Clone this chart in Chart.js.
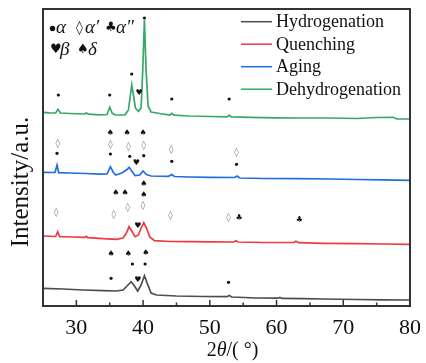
<!DOCTYPE html>
<html><head><meta charset="utf-8">
<script src="https://cdn.jsdelivr.net/npm/chart.js@4/dist/chart.umd.min.js"></script>
<style>html,body{margin:0;padding:0;background:#fff}</style>
</head><body>
<canvas id="c" width="426" height="363"></canvas>
<script>
// ---- data (2θ in degrees, intensity in arbitrary offset units) ----
const seriesNames = ['Hydrogenation', 'Quenching', 'Aging', 'Dehydrogenation'];
const seriesColors = ['#4d4d4d', '#ee3a40', '#1f6fdc', '#38a86a'];

const hydroX = [25, 28, 31, 34, 36, 37.0, 37.6, 38.2, 38.6, 39.2, 39.7, 40.2, 40.6, 41.2, 42, 45, 49, 52.6, 52.9, 53.3, 57, 60.2, 60.5, 60.8, 64, 67, 72, 76, 80];
const hydroY = [17.7, 17, 16, 15.3, 15, 16, 20, 24.3, 21, 15, 21, 30.3, 23, 13, 11, 10, 9.5, 9.3, 10.5, 9, 8, 7.8, 8.6, 7.6, 7.3, 7, 6.5, 6.2, 6];

const quenchX = [25, 26.9, 27.2, 27.5, 29.5, 31.3, 31.5, 31.7, 34, 36, 37.0, 37.5, 37.9, 38.3, 38.8, 39.3, 39.7, 40.1, 40.5, 41.0, 41.7, 44, 47, 50, 53.6, 53.9, 54.2, 58, 62.6, 62.9, 63.3, 67, 72, 76, 80];
const quenchY = [70, 69.5, 74.3, 69.3, 69, 68.7, 69.7, 68.4, 67.3, 66.7, 68, 73, 79.3, 75, 69.3, 71, 78, 83.3, 78, 69, 65.3, 64.5, 64.3, 64.2, 64, 65.3, 64, 63.5, 63.5, 64.8, 63.3, 62.7, 62.3, 62, 61.7];

const agingX = [25, 26.8, 27.1, 27.35, 29, 31.5, 33.5, 34.6, 35.1, 35.5, 35.9, 36.8, 37.5, 37.9, 38.3, 38.8, 39.5, 40.0, 40.5, 41.2, 43.8, 44.3, 44.7, 47, 50, 53.7, 54.1, 54.5, 58, 63, 68, 72, 76, 80];
const agingY = [133.7, 133.5, 141, 133.3, 133, 132.5, 131.8, 132, 139.3, 134, 131, 133, 136, 138.7, 135, 130.3, 131, 135, 131.5, 130, 129.7, 131.5, 129.5, 129, 128.7, 128.5, 130, 128, 127.5, 127.3, 127, 126.5, 126.2, 125.7];

const dehydX = [25, 26, 26.9, 27.25, 27.6, 29, 31.2, 31.5, 31.8, 33.5, 34.6, 35.0, 35.4, 35.9, 37.3, 37.8, 38.1, 38.3, 38.55, 38.85, 39.3, 39.7, 39.95, 40.2, 40.45, 40.75, 41.2, 42.5, 44.0, 44.3, 44.6, 47, 50, 52.6, 52.9, 53.2, 56, 60, 64, 68, 72, 75, 77.5, 78, 80];
const dehydY = [193.7, 193.2, 193, 196.7, 193, 192.5, 192, 193, 191.8, 191.2, 191.5, 198.7, 192.5, 191, 191.2, 196, 211, 221, 211, 198, 194.5, 198, 236, 286, 236, 200, 194, 192.5, 191, 192.7, 190.8, 190, 189.5, 189.2, 190.7, 189.2, 188.7, 188.2, 188, 188, 187.5, 188.5, 188.7, 187, 187];

// phase markers [2θ, intensity position]
const alphaMarks = [[27.3, 211], [35.0, 211], [38.3, 232], [40.2, 288], [44.3, 207], [52.9, 207],
  [27.1, 152.7], [35.1, 152], [38.0, 149.7], [40.1, 150.3], [44.3, 144.7], [54.0, 141.7],
  [38.4, 42], [40.3, 42], [35.2, 27.7], [52.8, 23.7]];
const alphaPrimeMarks = [[27.2, 162], [35.1, 161.3], [37.8, 159.3], [40.1, 160.3], [44.2, 156.7], [54.0, 153.7],
  [27.0, 93.3], [35.6, 91], [37.7, 98.7], [40.0, 100], [44.1, 90], [52.8, 88.3]];
const alphaDPrimeMarks = [[54.4, 87.7], [63.4, 85.7]];
const betaMarks = [[39.4, 213], [39.0, 142.7], [39.2, 80.3], [39.2, 26]];
const deltaMarks = [[35.1, 173.3], [37.6, 173.3], [40.0, 173.3],
  [35.9, 112.7], [37.3, 112.7], [40.1, 121.7], [40.1, 111],
  [35.2, 52], [37.8, 52], [40.4, 52.7]];

const xTickValues = [30, 40, 50, 60, 70, 80];
const xMinorTicks = [35, 45, 55, 65, 75];
const xMin = 25, xMax = 80, yMin = 0, yMax = 297;
const xTitleRuns = [['2', ''], ['θ', 'italic '], ['/( °)', '']];
const yTitle = 'Intensity/a.u.';

// ---- build ----
const allX = [hydroX, quenchX, agingX, dehydX];
const allY = [hydroY, quenchY, agingY, dehydY];
const datasets = seriesNames.map((n, i) => ({
  label: n,
  data: allX[i].map((x, j) => ({x: x, y: allY[i][j]})),
  borderColor: seriesColors[i],
  backgroundColor: seriesColors[i],
  borderWidth: 1.7,
  pointRadius: 0,
  tension: 0,
  fill: false
}));

const SERIF = "'Liberation Serif', 'Times New Roman', serif";
const SYM = "'DejaVu Sans', sans-serif";

function drawRuns(ctx, x, y, runs) {
  let cx = x;
  for (const r of runs) {
    ctx.font = r.font;
    ctx.fillStyle = r.color || '#111';
    if (r.x !== undefined) cx = x + r.x;
    ctx.fillText(r.t, cx, y + (r.dy || 0));
    cx += ctx.measureText(r.t).width;
  }
}

const decor = {
  id: 'decor',
  afterDatasetsDraw(chart) {
    const ctx = chart.ctx, a = chart.chartArea;
    const xs = chart.scales.x, ys = chart.scales.y;
    ctx.save();
    // frame
    ctx.strokeStyle = '#333';
    ctx.lineWidth = 2;
    ctx.strokeRect(a.left, a.top, a.right - a.left, a.bottom - a.top);
    // inward ticks
    ctx.lineWidth = 1.5;
    ctx.beginPath();
    xTickValues.forEach(v => { const px = xs.getPixelForValue(v); ctx.moveTo(px, a.bottom); ctx.lineTo(px, a.bottom - 6); });
    xMinorTicks.forEach(v => { const px = xs.getPixelForValue(v); ctx.moveTo(px, a.bottom); ctx.lineTo(px, a.bottom - 3.5); });
    ctx.stroke();

    // markers
    ctx.textAlign = 'center';
    ctx.textBaseline = 'middle';
    ctx.fillStyle = '#111';
    alphaMarks.forEach(([x, y]) => {
      ctx.beginPath();
      ctx.arc(xs.getPixelForValue(x), ys.getPixelForValue(y), 1.6, 0, Math.PI * 2);
      ctx.fill();
    });
    ctx.font = '9px ' + SYM;
    ctx.fillStyle = '#777';
    alphaPrimeMarks.forEach(([x, y]) => ctx.fillText('◊', xs.getPixelForValue(x), ys.getPixelForValue(y)));
    ctx.fillStyle = '#111';
    ctx.font = '8px ' + SYM;
    alphaDPrimeMarks.forEach(([x, y]) => ctx.fillText('♣', xs.getPixelForValue(x), ys.getPixelForValue(y)));
    betaMarks.forEach(([x, y]) => ctx.fillText('♥', xs.getPixelForValue(x), ys.getPixelForValue(y)));
    deltaMarks.forEach(([x, y]) => ctx.fillText('♠', xs.getPixelForValue(x), ys.getPixelForValue(y)));

    // phase key (top-left)
    ctx.textAlign = 'left';
    ctx.fillStyle = '#111';
    ctx.beginPath();
    ctx.arc(a.left + 9.5, a.top + 19.5, 2.7, 0, Math.PI * 2);
    ctx.fill();
    const gk = 'italic 19px ' + SERIF;
    drawRuns(ctx, a.left, a.top + 19, [
      {t: 'α', font: gk, x: 13},
      {t: '◊', font: '14px ' + SYM, x: 33, color: '#333'},
      {t: 'α′', font: gk, x: 42},
      {t: '♣', font: '13px ' + SYM, x: 62},
      {t: 'α″', font: gk, x: 73}
    ]);
    drawRuns(ctx, a.left, a.top + 41, [
      {t: '♥', font: '13px ' + SYM, x: 7},
      {t: 'β', font: gk, x: 17},
      {t: '♠', font: '13px ' + SYM, x: 34},
      {t: 'δ', font: gk, x: 45}
    ]);

    // legend (top-right)
    chart.data.datasets.forEach((d, i) => {
      const y = a.top + 12.7 + i * 22.5;
      ctx.strokeStyle = d.borderColor;
      ctx.lineWidth = 1.5;
      ctx.beginPath();
      ctx.moveTo(a.right - 169, y);
      ctx.lineTo(a.right - 138, y);
      ctx.stroke();
      ctx.fillStyle = '#111';
      ctx.font = '18px ' + SERIF;
      ctx.fillText(d.label, a.right - 134, y + 1);
    });

    // axis titles
    const runs = xTitleRuns.map(([t, st]) => ({t: t, font: st + '20px ' + SERIF}));
    let w = 0;
    runs.forEach(r => { ctx.font = r.font; w += ctx.measureText(r.t).width; });
    drawRuns(ctx, (a.left + a.right) / 2 - w / 2 + 6, 351, runs);

    ctx.translate(21.5, a.top + 173);
    ctx.rotate(-Math.PI / 2);
    ctx.textAlign = 'center';
    ctx.font = '25px ' + SERIF;
    ctx.fillStyle = '#111';
    ctx.fillText(yTitle, 0, 0);
    ctx.restore();
  }
};

new Chart(document.getElementById('c'), {
  type: 'line',
  data: {datasets: datasets},
  options: {
    responsive: false,
    animation: false,
    devicePixelRatio: 1,
    layout: {padding: {top: 9, right: 16, left: 0, bottom: 0}},
    plugins: {legend: {display: false}, tooltip: {enabled: false}},
    scales: {
      x: {
        type: 'linear', min: xMin, max: xMax,
        afterBuildTicks: s => { s.ticks = xTickValues.map(v => ({value: v})); },
        afterFit: s => { s.height = 57; },
        grid: {display: false},
        border: {display: false},
        ticks: {color: '#111', padding: 1, font: {family: SERIF, size: 22}, maxRotation: 0}
      },
      y: {
        min: yMin, max: yMax,
        afterFit: s => { s.width = 43; },
        grid: {display: false},
        border: {display: false},
        ticks: {display: false}
      }
    }
  },
  plugins: [decor]
});
</script>
</body></html>
